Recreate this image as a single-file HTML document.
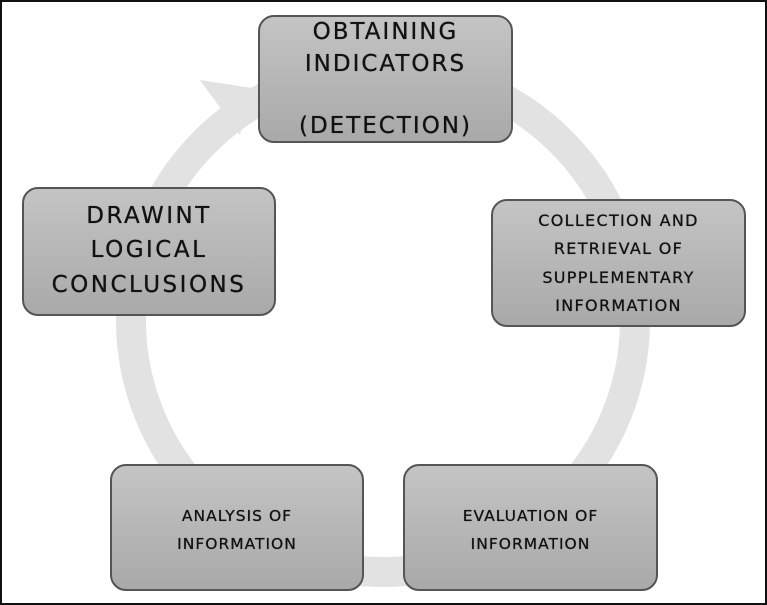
<!DOCTYPE html>
<html><head><style>
body{margin:0;width:767px;height:605px;background:#fff;position:relative;overflow:hidden;font-family:"DejaVu Sans","Liberation Sans",sans-serif;}
.frame{position:absolute;left:0;top:0;width:763px;height:601px;border:2px solid #111;}
.b{position:absolute;border:2px solid #555;border-radius:16px;background:linear-gradient(#c4c4c4,#a9a9a9);text-align:center;color:#111;box-sizing:border-box;text-shadow:0 0 0.6px #000;}
.b div{position:absolute;left:0;right:0;white-space:nowrap;}
</style></head><body>
<div class="frame"></div>
<svg width="767" height="605" style="position:absolute;left:0;top:0">
<circle cx="383" cy="320" r="252" fill="none" stroke="#e2e2e2" stroke-width="30"/>
<polygon points="200,80 252,88 240,135" fill="#e2e2e2"/>
</svg>
<div class="b" style="left:258px;top:15px;width:255px;height:128px;font-size:23px;letter-spacing:2px">
<div style="top:2px">OBTAINING</div><div style="top:34px">INDICATORS</div><div style="top:96px">(DETECTION)</div></div>
<div class="b" style="left:22px;top:187px;width:254px;height:129px;font-size:23px;letter-spacing:2.5px">
<div style="top:14px">DRAWINT</div><div style="top:48px">LOGICAL</div><div style="top:83px">CONCLUSIONS</div></div>
<div class="b" style="left:491px;top:199px;width:255px;height:128px;font-size:16px;letter-spacing:1.3px">
<div style="top:10px">COLLECTION AND</div><div style="top:38px">RETRIEVAL OF</div><div style="top:67px">SUPPLEMENTARY</div><div style="top:95px">INFORMATION</div></div>
<div class="b" style="left:110px;top:464px;width:254px;height:127px;font-size:15.5px;letter-spacing:1px">
<div style="top:41px">ANALYSIS OF</div><div style="top:69px">INFORMATION</div></div>
<div class="b" style="left:403px;top:464px;width:255px;height:127px;font-size:15.5px;letter-spacing:1px">
<div style="top:41px">EVALUATION OF</div><div style="top:69px">INFORMATION</div></div>
</body></html>
